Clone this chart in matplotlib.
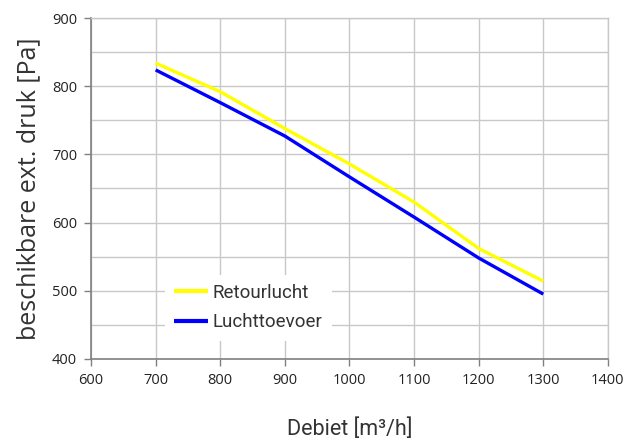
import matplotlib
matplotlib.use("Agg")
import matplotlib.pyplot as plt
from matplotlib.ticker import MultipleLocator

debiet = [700, 800, 900, 1000, 1100, 1200, 1300]
retourlucht = [834, 792, 738, 686, 630, 562, 514]
luchttoevoer = [824, 776, 727, 667, 608, 548, 495]
series_names = ["Retourlucht", "Luchttoevoer"]
series_colors = ["#ffff00", "#0000ff"]

fig = plt.figure(figsize=(6.28, 4.43), dpi=100)
ax = fig.add_axes([0.145, 0.19, 0.823, 0.769])

ax.plot(debiet, retourlucht, color=series_colors[0], lw=2.4, label=series_names[0],
        solid_capstyle="butt", solid_joinstyle="round")
ax.plot(debiet, luchttoevoer, color=series_colors[1], lw=2.4, label=series_names[1],
        solid_capstyle="butt", solid_joinstyle="round")

ax.set_xlim(600, 1400)
ax.set_ylim(400, 900)
ax.xaxis.set_major_locator(MultipleLocator(100))
ax.yaxis.set_major_locator(MultipleLocator(100))
ax.yaxis.set_minor_locator(MultipleLocator(50))
ax.grid(True, which="major", color="#c8c8c8", lw=1.0, zorder=0)
ax.grid(True, which="minor", axis="y", color="#c8c8c8", lw=1.0, zorder=0)
ax.set_axisbelow(True)
ax.tick_params(which="minor", length=0)
ax.tick_params(which="major", length=5, color="#808080", width=1,
               labelsize=10.5, labelcolor="#222222", pad=5)
for lab in ax.get_xticklabels() + ax.get_yticklabels():
    lab.set_family("Open Sans")

for s in ["top", "right"]:
    ax.spines[s].set_color("#c8c8c8")
    ax.spines[s].set_linewidth(1.0)
for s in ["left", "bottom"]:
    ax.spines[s].set_color("#808080")
    ax.spines[s].set_linewidth(1.2)

ax.set_xlabel("Debiet [m³/h]", fontsize=15.5, family="Roboto", color="#333333", labelpad=22)
ax.set_ylabel("beschikbare ext. druk [Pa]", fontsize=18, family="Open Sans",
              color="#333333", labelpad=8)

leg = ax.legend(loc="lower left", bbox_to_anchor=(0.124, 0.026), frameon=True,
                prop={"family": "Roboto", "size": 13.5}, handlelength=1.8,
                handletextpad=0.25, labelspacing=0.6, labelcolor="#333333",
                borderpad=0.5, fancybox=False, framealpha=1.0,
                facecolor="white", edgecolor="none")
for h in leg.get_lines():
    h.set_linewidth(3)

fig.savefig("out.png", dpi=100)
